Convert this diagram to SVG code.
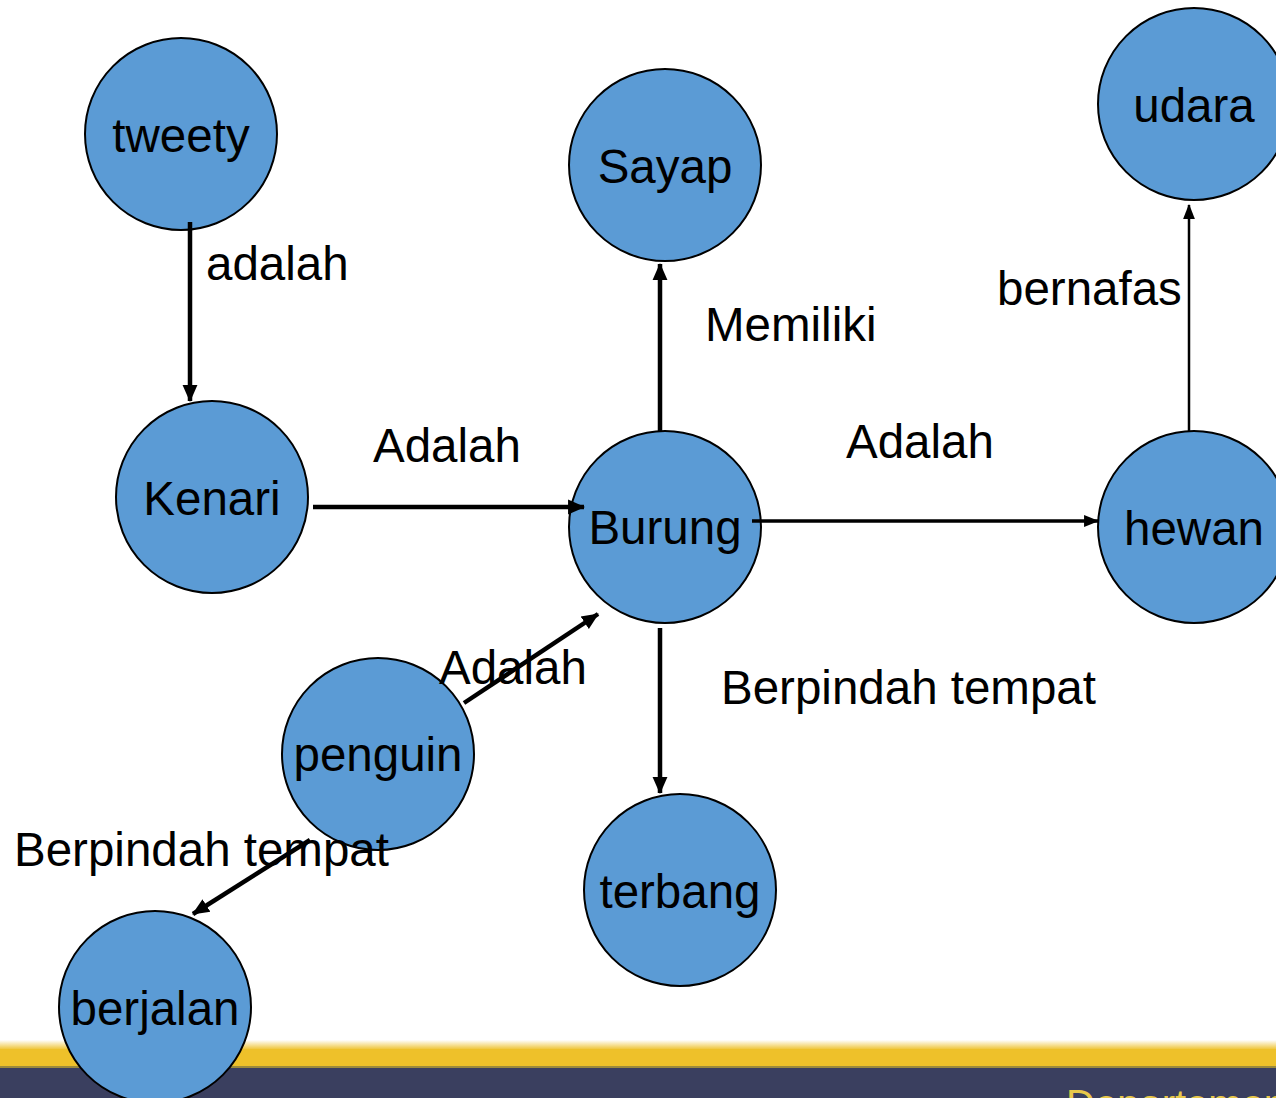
<svg xmlns="http://www.w3.org/2000/svg" width="1276" height="1098" viewBox="0 0 1276 1098">
  <defs>
    <marker id="arrow" viewBox="0 0 16 16" refX="15" refY="8" markerWidth="17" markerHeight="17" markerUnits="userSpaceOnUse" orient="auto">
      <path d="M0,1 L16,8 L0,15 Z" fill="#000"/>
    </marker>
    <marker id="arrow-sm" viewBox="0 0 14 12" refX="13" refY="6" markerWidth="15" markerHeight="13" markerUnits="userSpaceOnUse" orient="auto">
      <path d="M0,0.5 L14,6 L0,11.5 Z" fill="#000"/>
    </marker>
    <linearGradient id="band" x1="0" y1="0" x2="0" y2="1">
      <stop offset="0" stop-color="#ffffff"/>
      <stop offset="1" stop-color="#eec12a"/>
    </linearGradient>
  </defs>
  <style>
    .node circle { fill: #5b9bd5; stroke: #000; stroke-width: 2; }
    text { font-family: "Liberation Sans", Arial, sans-serif; font-size: 47.5px; fill: #000; }
    .node text { text-anchor: middle; }
    .edge { stroke: #000; fill: none; }
    .thick { stroke-width: 4.5; }
    .thin { stroke-width: 3.5; }
    .hair { stroke-width: 2.5; }
  </style>

  <rect width="1276" height="1098" fill="#ffffff"/>

  <!-- footer band -->
  <g id="footer">
    <rect x="0" y="1040" width="1276" height="10" fill="url(#band)"/>
    <rect x="0" y="1049" width="1276" height="18" fill="#eec12a"/>
    <rect x="0" y="1066" width="1276" height="2" fill="#9b8a3c"/>
    <rect x="0" y="1068" width="1276" height="30" fill="#3a3f5f"/>
    <text x="1066" y="1118" style="font-size:40px; fill:#e8c84a;">Departemen</text>
  </g>

  <!-- nodes -->
  <g id="node-tweety" class="node"><circle cx="181" cy="134" r="96"/><text x="181" y="152">tweety</text></g>
  <g id="node-sayap" class="node"><circle cx="665" cy="165" r="96"/><text x="665" y="183">Sayap</text></g>
  <g id="node-udara" class="node"><circle cx="1194" cy="104" r="96"/><text x="1194" y="122">udara</text></g>
  <g id="node-kenari" class="node"><circle cx="212" cy="497" r="96"/><text x="212" y="515">Kenari</text></g>
  <g id="node-burung" class="node"><circle cx="665" cy="527" r="96"/><text x="665" y="544">Burung</text></g>
  <g id="node-hewan" class="node"><circle cx="1194" cy="527" r="96"/><text x="1194" y="545">hewan</text></g>
  <g id="node-penguin" class="node"><circle cx="378" cy="754" r="96"/><text x="378" y="771">penguin</text></g>
  <g id="node-terbang" class="node"><circle cx="680" cy="890" r="96"/><text x="680" y="908">terbang</text></g>
  <g id="node-berjalan" class="node"><circle cx="155" cy="1007" r="96"/><text x="155" y="1025">berjalan</text></g>

  <!-- connectors and their labels, drawn over the nodes -->
  <g id="connectors">
    <line class="edge thick" x1="190" y1="222" x2="190" y2="401" marker-end="url(#arrow)"/>
    <text x="206" y="280">adalah</text>

    <line class="edge thick" x1="313" y1="507" x2="584" y2="507" marker-end="url(#arrow)"/>
    <text x="373" y="462">Adalah</text>

    <line class="edge thick" x1="660" y1="431" x2="660" y2="264" marker-end="url(#arrow)"/>
    <text x="705" y="341">Memiliki</text>

    <line class="edge thin" x1="752" y1="521" x2="1098" y2="521" marker-end="url(#arrow-sm)"/>
    <text x="846" y="458">Adalah</text>

    <line class="edge hair" x1="1189" y1="431" x2="1189" y2="205" marker-end="url(#arrow-sm)"/>
    <text x="997" y="305">bernafas</text>

    <line class="edge thick" x1="660" y1="628" x2="660" y2="793" marker-end="url(#arrow)"/>
    <text x="721" y="704">Berpindah tempat</text>

    <line class="edge thick" x1="464" y1="703" x2="598" y2="614" marker-end="url(#arrow)"/>
    <text x="439" y="684">Adalah</text>

    <line class="edge thick" x1="310" y1="840" x2="193" y2="914" marker-end="url(#arrow)"/>
    <text x="14" y="866">Berpindah tempat</text>
  </g>
</svg>
